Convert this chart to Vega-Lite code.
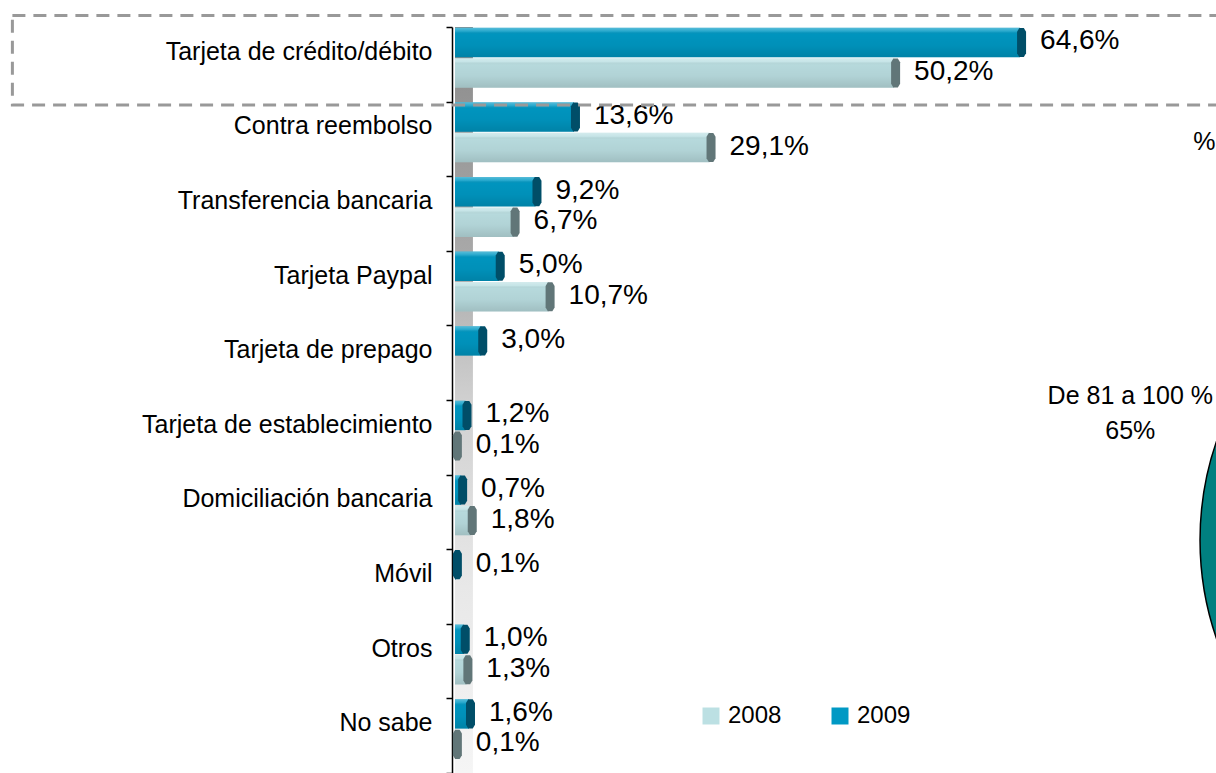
{
  "$schema": "https://vega.github.io/schema/vega-lite/v6.json",
  "width": 761,
  "height": 746,
  "autosize": {"type": "none"},
  "padding": {"left": 455, "top": 27, "right": 0, "bottom": 0},
  "background": "white",
  "config": {
    "font": "Liberation Sans",
    "view": {"stroke": null},
    "locale": {"number": {"decimal": ",", "thousands": ".", "grouping": [3], "currency": ["", " €"]}}
  },
  "datasets": {
    "pagos": [
      {"categoria": "Tarjeta de crédito/débito", "anio": "2009", "valor": 0.646},
      {"categoria": "Tarjeta de crédito/débito", "anio": "2008", "valor": 0.502},
      {"categoria": "Contra reembolso", "anio": "2009", "valor": 0.136},
      {"categoria": "Contra reembolso", "anio": "2008", "valor": 0.291},
      {"categoria": "Transferencia bancaria", "anio": "2009", "valor": 0.092},
      {"categoria": "Transferencia bancaria", "anio": "2008", "valor": 0.067},
      {"categoria": "Tarjeta Paypal", "anio": "2009", "valor": 0.050},
      {"categoria": "Tarjeta Paypal", "anio": "2008", "valor": 0.107},
      {"categoria": "Tarjeta de prepago", "anio": "2009", "valor": 0.030},
      {"categoria": "Tarjeta de establecimiento", "anio": "2009", "valor": 0.012},
      {"categoria": "Tarjeta de establecimiento", "anio": "2008", "valor": 0.001},
      {"categoria": "Domiciliación bancaria", "anio": "2009", "valor": 0.007},
      {"categoria": "Domiciliación bancaria", "anio": "2008", "valor": 0.018},
      {"categoria": "Móvil", "anio": "2009", "valor": 0.001},
      {"categoria": "Otros", "anio": "2009", "valor": 0.010},
      {"categoria": "Otros", "anio": "2008", "valor": 0.013},
      {"categoria": "No sabe", "anio": "2009", "valor": 0.016},
      {"categoria": "No sabe", "anio": "2008", "valor": 0.001}
    ],
    "marco": [{"categoria": "Tarjeta de crédito/débito", "desde": -0.506, "hasta": 0.95}],
    "tarta": [{"categoria": "Domiciliación bancaria", "centro": 1.197}],
    "nota1": [{"categoria": "Tarjeta de prepago", "x": 0.772, "texto": ["De 81 a 100 %", "65%"]}],
    "nota2": [{"categoria": "Contra reembolso", "x": 0.844, "texto": "%"}]
  },
  "layer": [
    {
      "data": {"values": [{}]},
      "mark": {
        "type": "rect",
        "color": {
          "gradient": "linear", "x1": 0, "y1": 0, "x2": 0, "y2": 1,
          "stops": [
            {"offset": 0, "color": "#8a8a8a"},
            {"offset": 0.3, "color": "#a8a8a8"},
            {"offset": 0.5, "color": "#d0d0d0"},
            {"offset": 0.75, "color": "#e8e8e8"},
            {"offset": 1, "color": "#f5f5f5"}
          ]
        }
      },
      "encoding": {
        "x": {"datum": 0, "type": "quantitative", "scale": {"domain": [0, 0.87], "nice": false, "zero": false}, "axis": null},
        "x2": {"datum": 0.0205},
        "y": {"value": 0},
        "y2": {"value": "height"}
      }
    },
    {
      "data": {"name": "pagos"},
      "encoding": {
        "x": {"field": "valor", "type": "quantitative", "scale": {"domain": [0, 0.87], "nice": false, "zero": false}, "axis": null},
        "y": {
          "field": "categoria", "type": "nominal",
          "scale": {
            "domain": ["Tarjeta de crédito/débito", "Contra reembolso", "Transferencia bancaria", "Tarjeta Paypal", "Tarjeta de prepago", "Tarjeta de establecimiento", "Domiciliación bancaria", "Móvil", "Otros", "No sabe"],
            "paddingInner": 0, "paddingOuter": 0
          },
          "axis": {
            "title": null, "domainColor": "black", "domainWidth": 1.5, "tickColor": "black", "tickSize": 6, "tickWidth": 1.5,
            "tickBand": "extent", "labelFontSize": 25, "labelColor": "black", "labelPadding": 14, "labelOffset": -13,
            "offset": 3, "grid": false, "labelLimit": 0
          }
        },
        "yOffset": {"field": "anio", "type": "nominal", "scale": {"domain": ["2009", "2008"], "paddingInner": 0.033, "paddingOuter": 0.24, "align": 0.05}}
      },
      "layer": [
        {
          "mark": {"type": "bar"},
          "encoding": {
            "x2": {"datum": 0},
            "color": {
              "field": "anio", "type": "nominal",
              "scale": {"domain": ["2008", "2009"], "range": ["#bce0e3", "#0099c4"]},
              "legend": {
                "orient": "none", "legendX": 244, "legendY": 677, "direction": "horizontal", "title": null,
                "symbolType": "square", "symbolSize": 289, "symbolStrokeWidth": 0, "labelFontSize": 24,
                "labelOffset": 5, "columnPadding": 46, "labelColor": "black"
              }
            }
          }
        },
        {
          "mark": {
            "type": "bar",
            "color": {
              "gradient": "linear", "x1": 0, "y1": 0, "x2": 0, "y2": 1,
              "stops": [
                {"offset": 0, "color": "rgba(255,255,255,0.35)"},
                {"offset": 0.12, "color": "rgba(255,255,255,0.15)"},
                {"offset": 0.22, "color": "rgba(0,0,0,0.03)"},
                {"offset": 0.6, "color": "rgba(0,0,0,0.06)"},
                {"offset": 1, "color": "rgba(0,0,0,0.15)"}
              ]
            }
          },
          "encoding": {"x2": {"datum": 0}}
        },
        {
          "mark": {
            "type": "point", "filled": true, "opacity": 1, "strokeWidth": 0, "size": 900,
            "shape": "M -0.2 -0.72 L -0.05 -0.97 L 0.25 -0.97 L 0.4 -0.72 L 0.4 0.72 L 0.25 0.97 L -0.05 0.97 L -0.2 0.72 Z"
          },
          "encoding": {
            "fill": {"field": "anio", "type": "nominal", "scale": {"domain": ["2008", "2009"], "range": ["#617678", "#004e68"]}, "legend": null}
          }
        },
        {
          "mark": {"type": "text", "align": "left", "baseline": "middle", "dx": 20, "dy": -1, "fontSize": 28, "color": "black"},
          "encoding": {"text": {"field": "valor", "type": "quantitative", "format": ".1%"}}
        }
      ]
    },
    {
      "data": {"name": "marco"},
      "mark": {"type": "bar", "fillOpacity": 0, "stroke": "#999999", "strokeWidth": 3, "strokeDash": [13, 8], "height": {"band": 1.2}, "yOffset": -4},
      "encoding": {
        "x": {"field": "desde", "type": "quantitative"},
        "x2": {"field": "hasta"},
        "y": {"field": "categoria", "type": "nominal"}
      }
    },
    {
      "data": {"name": "tarta"},
      "mark": {
        "type": "point", "filled": true, "opacity": 1, "fill": "#008080", "stroke": "black", "strokeWidth": 1.5, "size": 364816,
        "shape": "M -1 0.093 A 1 1 0 1 1 1 0.093 A 1 1 0 1 1 -1 0.093 Z"
      },
      "encoding": {
        "x": {"field": "centro", "type": "quantitative"},
        "y": {"field": "categoria", "type": "nominal"}
      }
    },
    {
      "data": {"name": "nota1"},
      "mark": {"type": "text", "align": "center", "baseline": "middle", "dy": 33, "fontSize": 25, "lineHeight": 35, "color": "black"},
      "encoding": {
        "x": {"field": "x", "type": "quantitative"},
        "y": {"field": "categoria", "type": "nominal"},
        "text": {"field": "texto"}
      }
    },
    {
      "data": {"name": "nota2"},
      "mark": {"type": "text", "align": "left", "baseline": "middle", "dy": 3, "fontSize": 25, "color": "black"},
      "encoding": {
        "x": {"field": "x", "type": "quantitative"},
        "y": {"field": "categoria", "type": "nominal"},
        "text": {"field": "texto"}
      }
    }
  ]
}
